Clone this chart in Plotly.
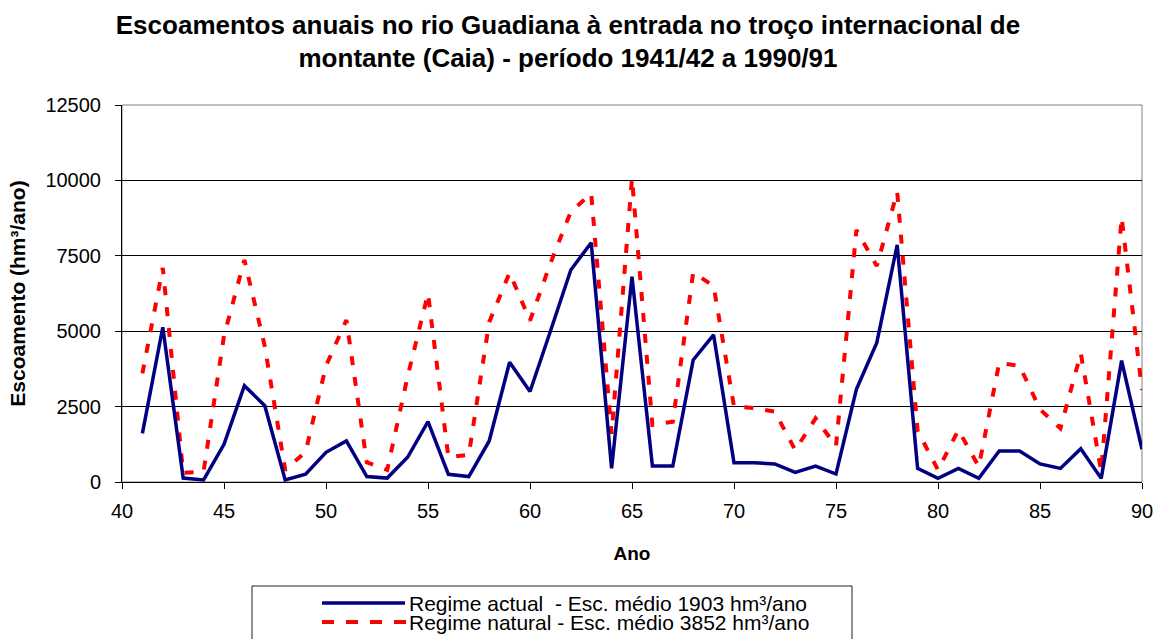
import plotly.graph_objects as go

# ---- data ----
anos = [41, 42, 43, 44, 45, 46, 47, 48, 49, 50,
        51, 52, 53, 54, 55, 56, 57, 58, 59, 60,
        61, 62, 63, 64, 65, 66, 67, 68, 69, 70,
        71, 72, 73, 74, 75, 76, 77, 78, 79, 80,
        81, 82, 83, 84, 85, 86, 87, 88, 89, 90]

regime_actual = [1610, 5130, 130, 70, 1250, 3195, 2530, 70, 255, 985,
                 1360, 180, 130, 820, 2000, 255, 180, 1360, 3970, 3000,
                 5000, 7030, 7935, 450, 6810, 530, 530, 4045, 4875, 640,
                 640, 600, 320, 530, 265, 3070, 4620, 7860, 450, 120,
                 450, 120, 1030, 1030, 600, 450, 1105, 120, 4025, 1085]

regime_natural = [3600, 7100, 300, 350, 4850, 7360, 4500, 400, 1000, 3850,
                  5370, 650, 400, 3500, 6250, 820, 900, 5300, 6940, 5350,
                  7250, 8960, 9570, 1600, 10070, 1890, 2000, 6950, 6500, 2500,
                  2450, 2330, 1060, 2110, 1190, 8355, 7160, 9625, 1700, 400,
                  1725, 510, 3950, 3850, 2410, 1780, 4265, 350, 8775, 3050]

nome_actual = "Regime actual \u00a0- Esc. médio 1903 hm³/ano"
nome_natural = "Regime natural - Esc. médio 3852 hm³/ano"

x_ticks = [40, 45, 50, 55, 60, 65, 70, 75, 80, 85, 90]
y_ticks = [0, 2500, 5000, 7500, 10000, 12500]
y_tick_text = ["0", "2500", "5000", "7500", "10000", "12500"]

titulo = ("Escoamentos anuais no rio Guadiana à entrada no troço internacional de"
          "<br>montante (Caia) - período 1941/42 a 1990/91")

FONT = "Liberation Sans, Arial, sans-serif"
BLUE = "#000080"
RED = "#FF0000"

fig = go.Figure()
fig.add_trace(go.Scatter(x=anos, y=regime_natural, mode="lines", name=nome_natural,
                         line=dict(color=RED, width=4, dash="9px,12px"), showlegend=False))
fig.add_trace(go.Scatter(x=anos, y=regime_actual, mode="lines", name=nome_actual,
                         line=dict(color=BLUE, width=3.5), showlegend=False))

# plot area geometry (px) for the hand-drawn legend box
L, R, T, B = 122, 1142, 105, 482
def px(x):
    return (x - L) / (R - L)
def py(y):
    return (B - y) / (B - T)

shapes = [
    dict(type="rect", xref="paper", yref="paper", x0=0, x1=1, y0=0, y1=1,
         line=dict(color="#808080", width=1), layer="below"),
    # legend box
    dict(type="rect", xref="paper", yref="paper", x0=px(252), x1=px(852), y0=py(586), y1=py(660),
         line=dict(color="#202020", width=1)),
    dict(type="line", xref="paper", yref="paper", x0=px(322), x1=px(405), y0=py(603), y1=py(603),
         line=dict(color=BLUE, width=3.5)),
    dict(type="line", xref="paper", yref="paper", x0=px(322), x1=px(406), y0=py(622), y1=py(622),
         line=dict(color=RED, width=4, dash="12px,12px")),
]

annotations = [
    dict(xref="paper", yref="paper", x=px(407), y=py(603), xanchor="left", yanchor="middle",
         text=nome_actual, showarrow=False, font=dict(family=FONT, size=21, color="black")),
    dict(xref="paper", yref="paper", x=px(407), y=py(622), xanchor="left", yanchor="middle",
         text=nome_natural, showarrow=False, font=dict(family=FONT, size=21, color="black")),
]

fig.update_layout(
    width=1157, height=639,
    margin=dict(l=L, r=1157 - R, t=T, b=639 - B, autoexpand=False),
    paper_bgcolor="white", plot_bgcolor="white",
    font=dict(family=FONT, color="black", size=20),
    title=dict(text="<b>" + titulo + "</b>", x=568 / 1157, xanchor="center", xref="container",
               y=1 - 33.5 / 639, yanchor="middle", yref="container",
               font=dict(family=FONT, size=26, color="black")),
    xaxis=dict(range=[40, 90], tickvals=x_ticks, ticks="outside", ticklen=6, tickcolor="black",
               showline=True, linecolor="black", linewidth=1, showgrid=False, zeroline=False,
               tickfont=dict(size=20), ticklabelstandoff=5, automargin=False,
               title=dict(text="<b>Ano</b>", font=dict(size=19), standoff=25)),
    yaxis=dict(range=[0, 12500], tickvals=y_ticks, ticktext=y_tick_text, ticks="outside", ticklen=6,
               tickcolor="black", automargin=False,
               showline=True, linecolor="black", linewidth=1, showgrid=True, gridcolor="#000000",
               gridwidth=1, zeroline=False, tickfont=dict(size=20), ticklabelstandoff=10,
               title=dict(text="<b>Escoamento (hm³/ano)</b>", font=dict(size=21), standoff=14)),
    shapes=shapes,
    annotations=annotations,
)

fig.write_html("out.html", config={"displayModeBar": False},
               post_script="document.body.style.margin='0px';")
